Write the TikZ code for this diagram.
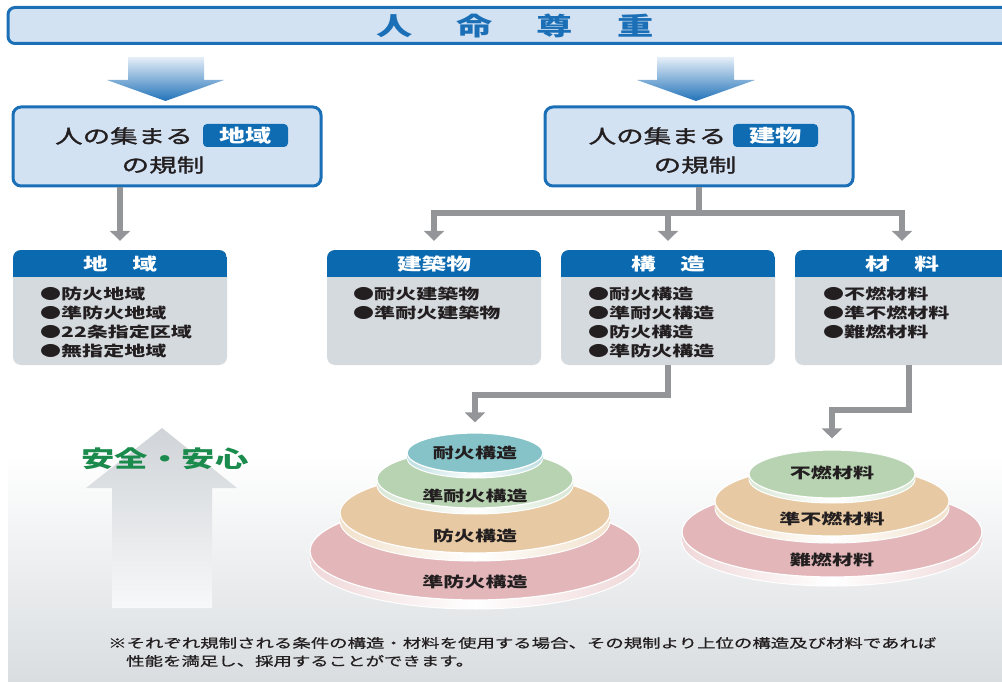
\documentclass[tikz,border=0pt]{standalone}
\usepackage{fontspec}
\setmainfont{Noto Sans CJK JP}[FakeStretch=1.45]
\newfontfamily\jpmed{Noto Sans CJK JP}[FakeStretch=1.45, FakeBold=1.5]
\newfontfamily\jpnote{Noto Sans CJK JP}[FakeStretch=1.45, FakeBold=0.8]
\usetikzlibrary{arrows.meta,shapes.geometric}
\definecolor{bannerblue}{HTML}{1A6FB6}
\definecolor{bannerfill}{HTML}{D3E2F3}
\definecolor{tagblue}{HTML}{0F6CB2}
\definecolor{hdrblue}{HTML}{0B69AF}
\definecolor{bodygray}{HTML}{D5DADE}
\definecolor{conngray}{HTML}{939598}
\definecolor{textdark}{HTML}{231F20}
\definecolor{safegreen}{HTML}{1A8B4C}
\definecolor{bgbot}{HTML}{D8DCDF}
\definecolor{arrtop}{HTML}{E6EFF8}
\definecolor{arrbot}{HTML}{2273B9}
\definecolor{uptop}{HTML}{D0D4D8}
\definecolor{upbot}{HTML}{F7F8F9}
\definecolor{dteal}{HTML}{86C3C9}
\definecolor{dgreen}{HTML}{B8D3B2}
\definecolor{dtan}{HTML}{E7C9A3}
\definecolor{dpink}{HTML}{E3B7BA}
\newcommand{\mydisc}[8]{%
  \shade[left color=#7, right color=#7, middle color=white] (#1,#2+#5) ellipse [x radius=#3pt, y radius=#4pt];
  \draw[white, line width=1pt] (#1,#2+#5) ellipse [x radius=#3pt, y radius=#4pt];
  \shade[left color=#7, right color=#7, middle color=white] (#1-#3,#2) rectangle (#1+#3,#2+#5);
  \node[ellipse, fill=#6, draw=white, line width=1.2pt, minimum width=#3*2pt, minimum height=#4*2pt, inner sep=0pt] (#8) at (#1,#2) {};
}
\begin{document}
\begin{tikzpicture}[x=1pt,y=-1pt,
  regbox/.style={draw=bannerblue, line width=3pt, fill=bannerfill, rounded corners=8pt, minimum width=308pt, minimum height=79pt, inner sep=0pt},
  regtxt/.style={text=textdark, inner sep=0pt, font=\jpmed\fontsize{19}{19}\selectfont},
  tagbox/.style={fill=tagblue, rounded corners=4pt, minimum width=85pt, minimum height=23pt, inner sep=0pt, text=white, font=\bfseries\fontsize{18}{18}\selectfont},
  catbox/.style={fill=bodygray, rounded corners=8pt, minimum width=214pt, minimum height=115pt, inner sep=0pt,
    path picture={\fill[hdrblue, sharp corners] (path picture bounding box.north west) rectangle ([yshift=-27pt]path picture bounding box.north east);}},
  hdrtxt/.style={text=white, inner sep=0pt, font=\bfseries\fontsize{17}{17}\selectfont},
  item/.style={anchor=west, text=textdark, inner sep=0pt, font=\bfseries\fontsize{14.5}{14.5}\selectfont},
  disclbl/.style={text=textdark, inner sep=0pt, font=\bfseries\fontsize{14.5}{14.5}\selectfont},
  conn/.style={draw=conngray, line width=6pt},
  tip/.style={-{Triangle[width=20pt,length=10pt]}},
  note/.style={anchor=west, text=textdark, inner sep=0pt, font=\jpnote\fontsize{12.7}{12.7}\selectfont}
]
\useasboundingbox (0,0) rectangle (1002,682);
\clip (0,0) rectangle (1002,682);
% background gradient
\shade[top color=white, bottom color=bgbot] (8,455) rectangle (1012,690);
% banner
\node[draw=bannerblue, line width=3pt, fill=bannerfill, rounded corners=7pt, minimum width=1014pt, minimum height=36pt, inner sep=0pt] (banner) at (515,25.5) {};
\node[text=bannerblue, inner sep=0pt, font=\bfseries\fontsize{25}{25}\selectfont] (title) at (515,26) {人\hspace{44pt}命\hspace{44pt}尊\hspace{44pt}重};
% big blue arrows
\shade[top color=arrtop, bottom color=arrbot] (128,57) -- (204,57) -- (204,80) -- (224,80) -- (165.5,101) -- (107,80) -- (128,80) -- cycle;
\shade[top color=arrtop, bottom color=arrbot] (657,57) -- (734,57) -- (734,80) -- (755,80) -- (696,101) -- (637,80) -- (657,80) -- cycle;
% region boxes
\node[regbox] (rl) at (167,146.5) {};
\node[regtxt] (rl1) at (124,136) {人の集まる};
\node[tagbox] (rlt) at (245.5,135.5) {地域};
\node[regtxt] (rl2) at (163,165) {の規制};
\node[regbox] (rr) at (699,146.5) {};
\node[regtxt] (rr1) at (657.5,136) {人の集まる};
\node[tagbox] (rrt) at (775.5,135.5) {建物};
\node[regtxt] (rr2) at (695,165) {の規制};
% category boxes
\node[catbox] (c1) at (120,307.5) {};
\node[hdrtxt] (c1h) at (120,264) {地　域};
\node[item] (c1a) at (40,294) {●防火地域};
\node[item] (c1b) at (40,313) {●準防火地域};
\node[item] (c1c) at (40,332) {●22条指定区域};
\node[item] (c1d) at (40,351) {●無指定地域};
\node[catbox] (c2) at (434,307.5) {};
\node[hdrtxt] (c2h) at (434,264) {建築物};
\node[item] (c2a) at (353,294) {●耐火建築物};
\node[item] (c2b) at (353,313) {●準耐火建築物};
\node[catbox] (c3) at (668,307.5) {};
\node[hdrtxt] (c3h) at (668,264) {構　造};
\node[item] (c3a) at (588,294) {●耐火構造};
\node[item] (c3b) at (588,313) {●準耐火構造};
\node[item] (c3c) at (588,332) {●防火構造};
\node[item] (c3d) at (588,351) {●準防火構造};
\node[catbox] (c4) at (902,307.5) {};
\node[hdrtxt] (c4h) at (902,264) {材　料};
\node[item] (c4a) at (823,294) {●不燃材料};
\node[item] (c4b) at (823,313) {●準不燃材料};
\node[item] (c4c) at (823,332) {●難燃材料};
% connectors top
\draw[conn, tip, shorten >=9pt] (c1.north |- rl.south) -- (c1.north);
\coordinate (br) at (699,213);
\draw[conn] (rr.south) -- (br);
\draw[conn, {Triangle[width=20pt,length=10pt]}-{Triangle[width=20pt,length=10pt]}, shorten <=9pt, shorten >=9pt] (c2.north) -- (c2.north |- br) -- (c4.north |- br) -- (c4.north);
\draw[conn, tip, shorten >=9pt] (c3.north |- br) -- (c3.north);
% up arrow and safety text
\shade[top color=uptop, bottom color=upbot] (162,428) -- (237,488) -- (212,488) -- (212,608) -- (112,608) -- (112,488) -- (86,488) -- cycle;
\node[text=safegreen, inner sep=0pt, font=\bfseries\fontsize{23}{23}\selectfont] (safe) at (165,459) {安全・安心};
% structure discs
\mydisc{475}{551}{165}{49}{9}{dpink}{dpink!55!white}{s4}
\node[disclbl] (s4l) at (475,582) {準防火構造};
\mydisc{475}{513}{135}{40}{8}{dtan}{dtan!55!white}{s3}
\node[disclbl] (s3l) at (475,536) {防火構造};
\mydisc{475}{479}{98}{29}{6}{dgreen}{dgreen!55!white}{s2}
\node[disclbl] (s2l) at (475,496) {準耐火構造};
\mydisc{475}{453}{68}{20}{5}{dteal}{dteal!55!white}{s1}
\node[disclbl] (s1l) at (475,453) {耐火構造};
% material discs
\mydisc{832}{532}{150}{45}{9}{dpink}{dpink!55!white}{m3}
\node[disclbl] (m3l) at (832,560) {難燃材料};
\mydisc{832}{501}{117}{35}{7}{dtan}{dtan!55!white}{m2}
\node[disclbl] (m2l) at (832,519) {準不燃材料};
\mydisc{832}{474}{83}{24}{5}{dgreen}{dgreen!55!white}{m1}
\node[disclbl] (m1l) at (832,473) {不燃材料};
% lower connectors
\coordinate (bs) at (475,395);
\draw[conn, tip, shorten >=10pt] (c3.south) |- (bs) -- (s1.north);
\coordinate (bm) at (832,410);
\draw[conn, tip, shorten >=11pt] ([xshift=7pt]c4.south) |- (bm) -- (m1.north);
% footnote
\node[note] (n1) at (108,643) {※それぞれ規制される条件の構造・材料を使用する場合、その規制より上位の構造及び材料であれば};
\node[note] (n2) at (126,661) {性能を満足し、採用することができます。};
\end{tikzpicture}
\end{document}
